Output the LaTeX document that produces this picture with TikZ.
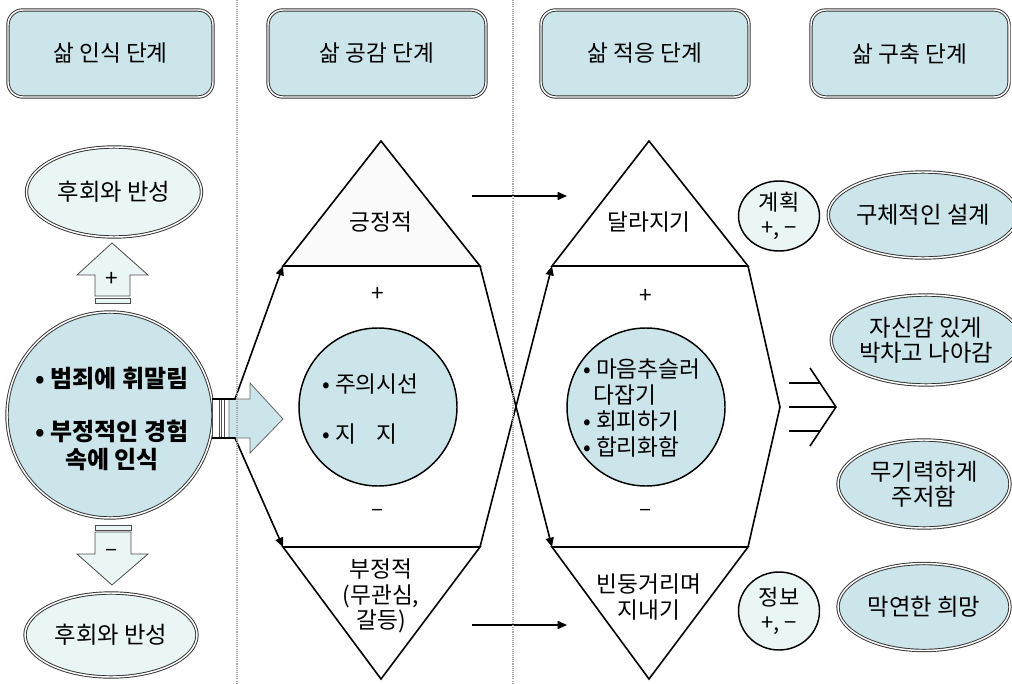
\documentclass[tikz,border=0pt]{standalone}
\usepackage{fontspec}
\setmainfont{Noto Sans CJK KR}
\usetikzlibrary{shapes.geometric,arrows.meta}
\definecolor{hdrfill}{HTML}{CCE5EA}
\definecolor{palefill}{HTML}{EAF5F6}
\definecolor{trifill}{HTML}{FBFBFB}
\newcommand{\upx}{0.75pt}
\tikzset{
  dbl/.style={draw=black!80, line width=0.7pt, double=white, double distance=1.1pt},
  hdr/.style={dbl, rounded corners=11pt, fill=hdrfill, inner sep=0pt, minimum height=87*\upx, font=\fontsize{17}{20}\selectfont},
  oval/.style={ellipse, dbl, inner sep=0pt, align=center, font=\fontsize{17.5}{19}\selectfont},
  midc/.style={circle, draw=black, line width=1.1pt, fill=hdrfill, inner sep=0pt, minimum size=158*\upx},
  smallc/.style={ellipse, draw=black, line width=1.1pt, fill=palefill, inner sep=0pt, align=center, font=\fontsize{16.5}{19}\selectfont},
  txt/.style={inner sep=0pt, font=\fontsize{17}{19}\selectfont, align=center},
  conn/.style={draw=black, line width=1.2pt},
  tri/.style={draw=black, line width=1.2pt, line join=miter},
  blk/.style={draw=black!70, line width=0.6pt, fill=palefill},
  sepline/.style={draw=gray!70, line width=1pt, dash pattern=on 0.8pt off 0.8pt},
  arr/.style={-{Triangle[length=7pt,width=6pt]}}
}
\begin{document}
\begin{tikzpicture}[x=0.75pt,y=-0.75pt]
\useasboundingbox (0,0) rectangle (1012,684);

% header boxes
\node[hdr, minimum width=205*\upx] (h1) at (110.5,53.5) {삶 인식 단계};
\node[hdr, minimum width=218*\upx] (h2) at (377,53.5) {삶 공감 단계};
\node[hdr, minimum width=208*\upx] (h3) at (645,53.5) {삶 적응 단계};
\node[hdr, minimum width=198*\upx] (h4) at (910,53.5) {삶 구축 단계};

% left column
\node[oval, fill=palefill, minimum width=175*\upx, minimum height=90*\upx] (r1) at (114,192) {후회와 반성};
\filldraw[blk] (112,243) -- (148,275) -- (130,275) -- (130,296) -- (95,296) -- (95,275) -- (77,275) -- cycle;
\filldraw[blk] (95,298) rectangle (130,303);
\node[txt] (plus0) at (112,279) {+};

\node[circle, dbl, fill=hdrfill, minimum size=206*\upx, inner sep=0pt] (c0) at (110,415) {};
\node[txt, font=\fontsize{18}{21}\selectfont\bfseries] (c0t) at (112,419) {• 범죄에 휘말림\\[19pt]• 부정적인 경험\\속에 인식};

\filldraw[blk] (95,525) rectangle (131,530);
\filldraw[blk] (95,532) -- (131,532) -- (131,554) -- (148,554) -- (112,585) -- (77,554) -- (95,554) -- cycle;
\node[txt] (minus0) at (112,553) {–};
\node[oval, fill=palefill, minimum width=172*\upx, minimum height=84*\upx] (r2) at (111,635) {후회와 반성};

% striped right arrow
\filldraw[draw=black!70, line width=0.6pt, fill=white] (212,399) rectangle (219,438);
\filldraw[draw=black!70, line width=0.6pt, fill=white] (221.5,399) rectangle (224.5,438);
\filldraw[draw=black!60, line width=0.6pt, fill=hdrfill] (229,399) -- (250,399) -- (250,383) -- (283,419) -- (250,453) -- (250,438) -- (229,438) -- cycle;

% hexagon coordinates
\coordinate (aT) at (381,141);
\coordinate (aTL) at (283,266);
\coordinate (aTR) at (480,266);
\coordinate (aBL) at (283,547);
\coordinate (aBR) at (480,547);
\coordinate (aB) at (381,679);
\coordinate (bT) at (649,141);
\coordinate (bTL) at (552,266);
\coordinate (bTR) at (748,266);
\coordinate (bBL) at (552,547);
\coordinate (bBR) at (748,547);
\coordinate (bB) at (649,679);
\coordinate (bR) at (780,407);
\coordinate (ca1) at (212,399);
\coordinate (ca1b) at (235,399);
\coordinate (ca2) at (212,438);
\coordinate (ca2b) at (235,438);

\filldraw[tri, fill=trifill] (aTL) -- (aT) -- (aTR) -- cycle;
\filldraw[tri, fill=white] (aBL) -- (aB) -- (aBR) -- cycle;
\filldraw[tri, fill=white] (bTL) -- (bT) -- (bTR) -- cycle;
\filldraw[tri, fill=white] (bBL) -- (bB) -- (bBR) -- cycle;

\draw[conn, arr] (ca1) -- (ca1b) -- (aTL);
\draw[conn, arr] (ca2) -- (ca2b) -- (aBL);
\draw[conn, arr] (aTR) -- (bBL);
\draw[conn, arr] (aBR) -- (bTL);
\draw[conn] (bTR) -- (bR) -- (bBR);

\node[txt] (tA) at (381,222) {긍정적};
\node[txt] (pA) at (378,294) {+};
\node[midc] (mc1) at (378,407) {};
\node[txt, align=left, anchor=west] (mc1t) at (322,409) {• 주의시선\\[19pt]• 지\hspace{0.9em}지};
\node[txt] (mA) at (378,513) {–};
\node[txt] (bA) at (381,596) {부정적\\(무관심,\\갈등)};

\node[txt] (tB) at (649,222) {달라지기};
\node[txt] (pB) at (646,296) {+};
\node[midc] (mc2) at (646,407) {};
\node[txt, align=left, anchor=west, font=\fontsize{17}{19.5}\selectfont] (mc2t) at (583,408) {• 마음추슬러\\\hspace{0.45em}다잡기\\• 회피하기\\• 합리화함};
\node[txt] (mB) at (646,513) {–};
\node[txt] (bBt) at (649,597) {빈둥거리며\\지내기};

% horizontal arrows
\coordinate (ha1) at (472,196);
\coordinate (ha2) at (567,196);
\coordinate (hb1) at (472,625);
\coordinate (hb2) at (567,625);
\draw[conn, arr] (ha1) -- (ha2);
\draw[conn, arr] (hb1) -- (hb2);

% small circles
\node[smallc, minimum width=81*\upx, minimum height=70*\upx] (sc1) at (779,216) {계획\\+, −};
\node[smallc, minimum width=81*\upx, minimum height=78*\upx] (sc2) at (779,611) {정보\\+, −};

% triple arrow
\coordinate (t1a) at (789,383);
\coordinate (t1b) at (820,383);
\coordinate (t2a) at (789,407);
\coordinate (t2b) at (836,407);
\coordinate (t3a) at (789,431);
\coordinate (t3b) at (820,431);
\coordinate (chT) at (810,368);
\coordinate (chB) at (810,446);
\draw[conn] (t1a) -- (t1b);
\draw[conn] (t2a) -- (t2b);
\draw[conn] (t3a) -- (t3b);
\draw[conn, line join=miter] (chT) -- (t2b) -- (chB);

% right ellipses
\node[oval, fill=hdrfill, minimum width=173*\upx, minimum height=86*\upx] (e1) at (923,215) {구체적인 설계};
\node[oval, fill=hdrfill, minimum width=172*\upx, minimum height=90*\upx] (e2) at (926,340) {자신감 있게\\박차고 나아감};
\node[oval, fill=hdrfill, minimum width=172*\upx, minimum height=88*\upx] (e3) at (924,484) {무기력하게\\주저함};
\node[oval, fill=hdrfill, minimum width=172*\upx, minimum height=87*\upx] (e4) at (924,607) {막연한 희망};

% separators
\coordinate (s1t) at (237,0);
\coordinate (s1b) at (237,684);
\coordinate (s2t) at (513,0);
\coordinate (s2b) at (513,684);
\draw[sepline] (s1t) -- (s1b);
\draw[sepline] (s2t) -- (s2b);
\end{tikzpicture}
\end{document}
